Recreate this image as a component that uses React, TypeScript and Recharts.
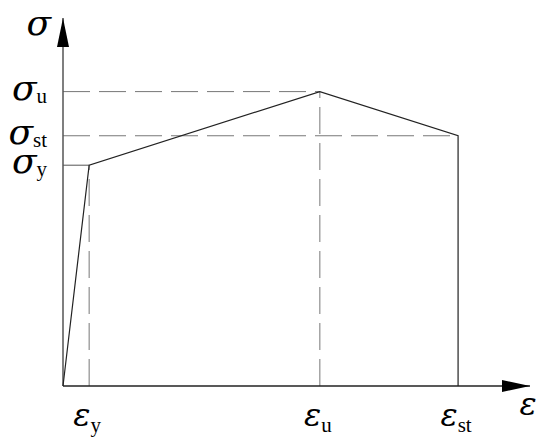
import React from 'react';
import { ComposedChart, Line, XAxis, YAxis, ReferenceLine, ReferenceDot } from 'recharts';

// strain / stress key points (arbitrary units, 0-100 on both axes)
const strainPoints = [0, 5.6, 55, 84.6, 84.6];
const stressPoints = [0, 60, 80, 68, 0];

const xTicks = [5.6, 55, 84.6];
const xTickSubs = ['y', 'u', 'st'];
const yTicks = [60, 68, 80];
const yTickSubs = ['y', 'st', 'u'];

const curve = strainPoints.map((x, i) => ({ x, y: stressPoints[i] }));

const GREEK = '"DejaVu Serif", serif';
const LATIN = '"Liberation Serif", "Times New Roman", serif';
const DASH = '27 9';

const XTick = (props: any) => {
  const { x, y, payload, index } = props;
  const sub = xTickSubs[xTicks.indexOf(payload.value)] ?? xTickSubs[index];
  return (
    <text x={x - 2} y={y + 32} textAnchor="middle" fill="#000">
      <tspan fontFamily={GREEK} fontSize={32} fontStyle="italic">ε</tspan>
      <tspan fontFamily={LATIN} fontSize={21} dy={6}>{sub}</tspan>
    </text>
  );
};

const YTick = (props: any) => {
  const { x, y, payload, index } = props;
  const sub = yTickSubs[yTicks.indexOf(payload.value)] ?? yTickSubs[index];
  return (
    <text x={x - 8} y={y + 8} textAnchor="end" fill="#000">
      <tspan fontFamily={GREEK} fontSize={36} fontStyle="italic">σ</tspan>
      <tspan fontFamily={LATIN} fontSize={21} dy={3}>{sub}</tspan>
    </text>
  );
};

const UpArrow = (props: any) => {
  const { cx, cy } = props;
  return (
    <g>
      <path d={`M${cx},${cy} L${cx - 6},${cy + 29} L${cx + 6},${cy + 29} Z`} fill="#000" />
      <text x={cx - 12} y={cy + 17} textAnchor="end" fontFamily={GREEK} fontSize={36} fontStyle="italic" fill="#000">σ</text>
    </g>
  );
};

const RightArrow = (props: any) => {
  const { cx, cy } = props;
  return (
    <g>
      <path d={`M${cx},${cy} L${cx - 28},${cy - 6} L${cx - 28},${cy + 6} Z`} fill="#000" />
      <text x={cx - 2} y={cy + 29} textAnchor="middle" fontFamily={GREEK} fontSize={32} fontStyle="italic" fill="#000">ε</text>
    </g>
  );
};

export default function App() {
  return (
    <div style={{ position: 'absolute', left: 0, top: 0, background: '#fff' }}>
      <ComposedChart width={550} height={439} data={curve} margin={{ top: 18, right: 20, bottom: 0, left: 0 }}>
        <XAxis
          type="number"
          dataKey="x"
          domain={[0, 100]}
          ticks={xTicks}
          height={53}
          axisLine={false}
          tickLine={false}
          tick={<XTick />}
          interval={0}
        />
        <YAxis
          type="number"
          domain={[0, 100]}
          ticks={yTicks}
          width={63}
          axisLine={false}
          tickLine={false}
          tick={<YTick />}
          interval={0}
        />
        <ReferenceLine segment={[{ x: 0, y: 80 }, { x: 55, y: 80 }]} stroke="#777" strokeDasharray={DASH} />
        <ReferenceLine segment={[{ x: 0, y: 68 }, { x: 84.6, y: 68 }]} stroke="#777" strokeDasharray={DASH} />
        <ReferenceLine segment={[{ x: 5.6, y: 0 }, { x: 5.6, y: 60 }]} stroke="#777" strokeDasharray={DASH} />
        <ReferenceLine segment={[{ x: 55, y: 0 }, { x: 55, y: 80 }]} stroke="#777" strokeDasharray={DASH} />
        <ReferenceLine segment={[{ x: 0, y: 60 }, { x: 5.6, y: 60 }]} stroke="#555" />
        <ReferenceLine segment={[{ x: 0, y: 0 }, { x: 0, y: 100 }]} stroke="#555" strokeWidth={1.5} />
        <ReferenceLine segment={[{ x: 0, y: 0 }, { x: 100, y: 0 }]} stroke="#222" strokeWidth={1.5} />
        <Line
          type="linear"
          dataKey="y"
          stroke="#222"
          strokeWidth={1.2}
          dot={false}
          isAnimationActive={false}
        />
        <ReferenceDot x={0} y={100} r={0} shape={<UpArrow />} />
        <ReferenceDot x={100} y={0} r={0} shape={<RightArrow />} />
      </ComposedChart>
    </div>
  );
}
